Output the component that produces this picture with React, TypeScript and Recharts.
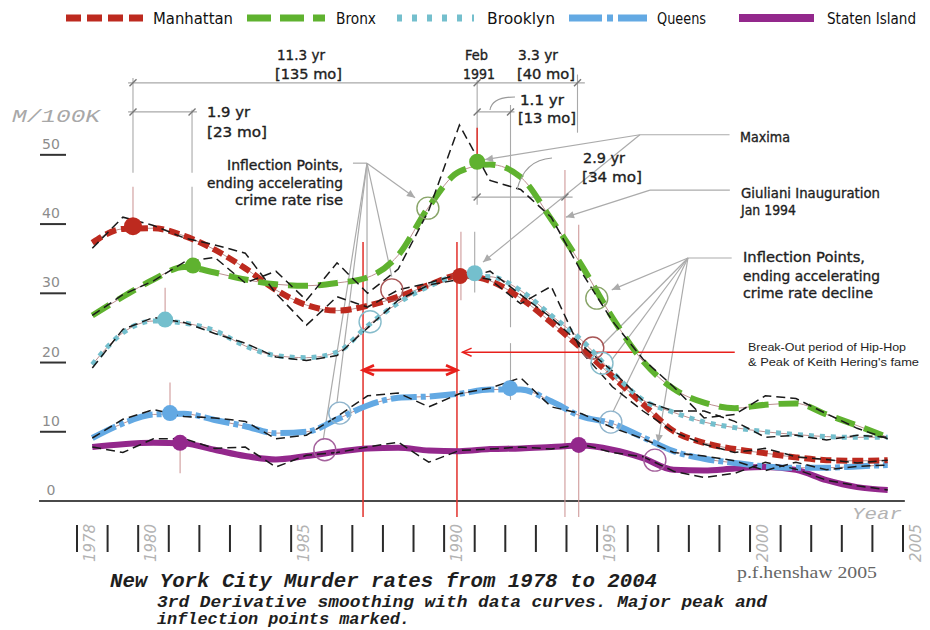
import React from 'react';
import { LineChart, Line, XAxis, YAxis, ReferenceLine, ReferenceDot } from 'recharts';

// ---------- data (murders per 100K, plotted at mid-year) ----------
const years = [1978, 1979, 1980, 1981, 1982, 1983, 1984, 1985, 1986, 1987, 1988, 1989, 1990, 1991, 1992, 1993, 1994, 1995, 1996, 1997, 1998, 1999, 2000, 2001, 2002, 2003, 2004];

const manhattanSmooth = [37.3, 39.3, 39.4, 38.3, 36.3, 33.6, 30.5, 28.3, 27.5, 28.2, 29.5, 31.2, 32.6, 31.8, 29.3, 25.8, 22.0, 18.0, 14.0, 10.1, 8.4, 7.5, 6.9, 6.3, 5.9, 5.8, 5.9];
const manhattanData = [36.5, 41.0, 39.8, 38.0, 37.0, 35.8, 30.0, 25.4, 29.5, 28.0, 30.5, 31.5, 32.8, 32.0, 28.5, 31.0, 21.5, 16.5, 13.0, 10.0, 8.2, 7.0, 7.6, 6.4, 6.0, 5.5, 5.9];

const bronxSmooth = [26.8, 29.5, 32.0, 33.8, 33.0, 32.0, 31.3, 31.1, 31.5, 32.3, 35.5, 42.5, 47.6, 48.6, 46.8, 40.7, 34.0, 26.5, 20.2, 16.2, 14.2, 13.4, 13.9, 14.1, 12.5, 10.9, 9.2];
const bronxData = [26.8, 29.8, 31.8, 34.5, 35.2, 31.5, 33.2, 29.0, 34.4, 30.0, 33.5, 42.0, 54.3, 46.3, 45.0, 41.0, 33.0, 26.0, 20.5, 16.5, 12.0, 12.5, 15.2, 14.8, 12.6, 10.5, 9.0];

const brooklynSmooth = [19.7, 24.3, 26.0, 25.7, 24.6, 22.4, 21.0, 20.7, 21.5, 25.3, 28.6, 31.0, 32.5, 32.4, 30.4, 26.8, 23.2, 18.6, 14.6, 12.8, 11.4, 10.6, 10.0, 9.6, 9.3, 9.2, 9.2];
const brooklynData = [19.2, 24.8, 26.5, 25.8, 24.2, 22.8, 20.8, 20.3, 21.0, 25.0, 29.0, 31.2, 32.0, 33.2, 29.8, 26.5, 22.5, 18.8, 14.5, 13.0, 13.0, 11.5, 9.2, 9.5, 8.8, 9.5, 9.2];

const queensSmooth = [9.1, 11.2, 12.5, 12.6, 11.7, 10.8, 9.8, 10.0, 11.8, 13.8, 14.9, 15.1, 15.5, 16.1, 16.1, 14.4, 12.2, 11.2, 9.2, 7.2, 6.1, 5.5, 5.0, 4.8, 4.8, 5.0, 5.2];
const queensData = [9.1, 11.8, 13.2, 12.2, 12.0, 11.5, 9.0, 9.5, 12.2, 15.2, 15.6, 13.6, 15.5, 16.3, 17.8, 13.6, 12.6, 10.6, 9.0, 7.0, 6.5, 5.8, 4.4, 5.6, 4.5, 5.0, 5.2];

const statenSmooth = [7.8, 8.2, 8.4, 8.3, 7.4, 6.5, 6.0, 6.5, 7.1, 7.6, 7.7, 7.3, 7.2, 7.5, 7.6, 7.8, 8.0, 7.4, 6.2, 4.5, 4.4, 4.7, 4.9, 4.5, 3.0, 2.0, 1.6];
const statenData = [7.8, 7.0, 9.0, 9.0, 7.6, 7.8, 4.9, 6.6, 7.0, 7.8, 8.5, 5.6, 7.3, 7.5, 7.8, 7.5, 8.2, 7.0, 6.4, 4.3, 3.4, 4.0, 5.6, 4.6, 3.0, 2.2, 1.6];

const tickYears = [1978, 1979, 1980, 1981, 1982, 1983, 1984, 1985, 1986, 1987, 1988, 1989, 1990, 1991, 1992, 1993, 1994, 1995, 1996, 1997, 1998, 1999, 2000, 2001, 2002, 2003, 2004, 2005];
const labeledYears = [1978, 1980, 1985, 1990, 1995, 2000, 2005];
const rateTicks = [0, 10, 20, 30, 40, 50];

const boroughNames = ['Manhattan', 'Bronx', 'Brooklyn', 'Queens', 'Staten Island'];

// ---------- annotation anchors in data units (year, rate) ----------
const maximaEarly = [
  { name: 'Manhattan', year: 1979.83, rate: 39.7 },
  { name: 'Bronx', year: 1981.79, rate: 34.0 },
  { name: 'Brooklyn', year: 1980.88, rate: 26.2 },
  { name: 'Queens', year: 1981.04, rate: 12.7 },
  { name: 'Staten Island', year: 1981.37, rate: 8.4 },
];
const maximaLate = [
  { name: 'Manhattan', year: 1990.52, rate: 32.5 },
  { name: 'Bronx', year: 1991.08, rate: 49.0 },
  { name: 'Brooklyn', year: 1991.0, rate: 32.9 },
  { name: 'Queens', year: 1992.15, rate: 16.3 },
  { name: 'Staten Island', year: 1994.4, rate: 8.1 },
];
const inflectionRise = [
  { name: 'Bronx', year: 1989.47, rate: 42.3 },
  { name: 'Manhattan', year: 1988.29, rate: 30.5 },
  { name: 'Brooklyn', year: 1987.58, rate: 25.9 },
  { name: 'Queens', year: 1986.59, rate: 12.7 },
  { name: 'Staten Island', year: 1986.1, rate: 7.4 },
];
const inflectionDecline = [
  { name: 'Bronx', year: 1994.99, rate: 29.3 },
  { name: 'Manhattan', year: 1994.86, rate: 22.1 },
  { name: 'Brooklyn', year: 1995.16, rate: 19.9 },
  { name: 'Queens', year: 1995.45, rate: 11.4 },
  { name: 'Staten Island', year: 1996.89, rate: 5.9 },
];
const guideVerticals = [
  { year: 1979.83, from: 61.1, to: 47.4, kind: 'dim' },
  { year: 1979.83, from: 45.4, to: 39.7, kind: 'pink' },
  { year: 1981.76, from: 56.5, to: 47.4, kind: 'dim' },
  { year: 1981.76, from: 45.4, to: 34.0, kind: 'dim' },
  { year: 1980.88, from: 30.8, to: 26.2, kind: 'pink' },
  { year: 1981.04, from: 17.1, to: 12.7, kind: 'pink' },
  { year: 1981.37, from: 8.4, to: 4.0, kind: 'pink' },
  { year: 1991.08, from: 60.8, to: 42.8, kind: 'dim' },
  { year: 1991.08, from: 53.9, to: 49.0, kind: 'red' },
  { year: 1990.55, from: 38.9, to: 29.0, kind: 'pink' },
  { year: 1991.0, from: 38.9, to: 30.1, kind: 'dim' },
  { year: 1992.17, from: 57.2, to: 25.1, kind: 'dim' },
  { year: 1992.17, from: 22.8, to: 14.6, kind: 'dim' },
  { year: 1994.36, from: 61.6, to: 53.2, kind: 'dim' },
  { year: 1994.4, from: 39.9, to: -2.3, kind: 'pink' },
  { year: 1993.95, from: 47.8, to: -2.3, kind: 'pink' },
  { year: 1987.35, from: 37.4, to: -2.3, kind: 'red' },
  { year: 1990.42, from: 37.4, to: -2.3, kind: 'red' },
];
const dimensionLines = [
  { from: 1979.67, to: 1994.6, rate: 60.4 },
  { from: 1979.67, to: 1981.92, rate: 56.2 },
  { from: 1991.08, to: 1992.3, rate: 56.2 },
  { from: 1990.9, to: 1994.2, rate: 43.9 },
];
const dimensionTicks = [
  { year: 1979.83, rate: 60.4 }, { year: 1991.08, rate: 60.4 }, { year: 1994.36, rate: 60.4 },
  { year: 1979.83, rate: 56.2 }, { year: 1981.76, rate: 56.2 },
  { year: 1991.08, rate: 56.2 }, { year: 1992.17, rate: 56.2 },
  { year: 1991.08, rate: 43.9 }, { year: 1993.95, rate: 43.9 },
];
const leaderLines = [
  { x1: 1996.4, y1: 52.9, x2: 1999.33, y2: 52.9, arrow: false },
  { x1: 1996.4, y1: 52.9, x2: 1991.33, y2: 49.3, arrow: true },
  { x1: 1996.4, y1: 52.9, x2: 1991.27, y2: 34.5, arrow: true },
  { x1: 1996.73, y1: 44.9, x2: 1999.34, y2: 44.9, arrow: false },
  { x1: 1996.73, y1: 44.9, x2: 1993.98, y2: 41.0, arrow: true },
  { x1: 1987.02, y1: 48.8, x2: 1987.48, y2: 48.8, arrow: false },
  { x1: 1987.48, y1: 48.8, x2: 1989.05, y2: 43.8, arrow: true },
  { x1: 1987.48, y1: 48.8, x2: 1988.29, y2: 32.4, arrow: false },
  { x1: 1987.48, y1: 48.8, x2: 1987.48, y2: 28.3, arrow: false },
  { x1: 1987.48, y1: 48.8, x2: 1986.5, y2: 14.3, arrow: false },
  { x1: 1987.48, y1: 48.8, x2: 1986.05, y2: 8.9, arrow: false },
  { x1: 1997.97, y1: 35.1, x2: 1999.4, y2: 35.1, arrow: false },
  { x1: 1997.97, y1: 35.1, x2: 1995.48, y2: 30.5, arrow: true },
  { x1: 1997.97, y1: 35.1, x2: 1995.16, y2: 22.5, arrow: false },
  { x1: 1997.97, y1: 35.1, x2: 1995.48, y2: 20.4, arrow: false },
  { x1: 1997.97, y1: 35.1, x2: 1995.52, y2: 12.9, arrow: false },
  { x1: 1997.97, y1: 35.1, x2: 1996.99, y2: 8.4, arrow: true },
];
const hipHopSpan = { from: 1987.35, to: 1990.42, rate: 18.9 };
const hipHopPointer = { from: 1999.5, to: 1990.6, rate: 21.5 };
const axisSpan = { from: 1976.76, to: 2005.06 };

// ---------- styling ----------
const COLORS: Record<string, string> = {
  Manhattan: '#bd2a1f',
  Bronx: '#5fb22f',
  Brooklyn: '#74bfcd',
  Queens: '#63a9e3',
  'Staten Island': '#93288c',
};
const CIRCLE_COLORS: Record<string, string> = {
  Manhattan: '#a85656',
  Bronx: '#88a468',
  Brooklyn: '#86bccb',
  Queens: '#8fb4cc',
  'Staten Island': '#a4619c',
};
const VERT_COLORS: Record<string, string> = { dim: '#a9a9a9', pink: '#cf9a9a', red: '#e2302b' };

const chartData = years.map((yr, i) => ({
  year: yr + 0.5,
  manhattan: manhattanSmooth[i],
  manhattanRaw: manhattanData[i],
  bronx: bronxSmooth[i],
  bronxRaw: bronxData[i],
  brooklyn: brooklynSmooth[i],
  brooklynRaw: brooklynData[i],
  queens: queensSmooth[i],
  queensRaw: queensData[i],
  staten: statenSmooth[i],
  statenRaw: statenData[i],
}));

const seriesDefs = [
  { key: 'staten', name: 'Staten Island', width: 6, dash: undefined as string | undefined },
  { key: 'queens', name: 'Queens', width: 6, dash: '26 4 5 4' },
  { key: 'manhattan', name: 'Manhattan', width: 6, dash: '11 5' },
  { key: 'brooklyn', name: 'Brooklyn', width: 5, dash: '5 6' },
  { key: 'bronx', name: 'Bronx', width: 6, dash: '20 10' },
];

const ANN_FONT = "'DejaVu Sans', 'Noto Sans', sans-serif";
const MONO = "'Liberation Mono', 'DejaVu Sans Mono', monospace";

const segShape = (color: string, width: number, head: 'none' | 'end' | 'both', filled: boolean, size: number) =>
  (p: any) => {
    const { x1, y1, x2, y2 } = p;
    if ([x1, y1, x2, y2].some((v) => typeof v !== 'number' || isNaN(v))) return <g />;
    const mk = (x: number, y: number, a: number, k: string) => {
      const w = 0.42;
      const ax = x - size * Math.cos(a - w);
      const ay = y - size * Math.sin(a - w);
      const bx = x - size * Math.cos(a + w);
      const by = y - size * Math.sin(a + w);
      return filled ? (
        <polygon key={k} points={`${ax},${ay} ${x},${y} ${bx},${by}`} fill={color} />
      ) : (
        <polyline key={k} points={`${ax},${ay} ${x},${y} ${bx},${by}`} fill="none" stroke={color} strokeWidth={width} />
      );
    };
    const a = Math.atan2(y2 - y1, x2 - x1);
    return (
      <g>
        <line x1={x1} y1={y1} x2={x2} y2={y2} stroke={color} strokeWidth={width} />
        {head !== 'none' && mk(x2, y2, a, 'e')}
        {head === 'both' && mk(x1, y1, a + Math.PI, 's')}
      </g>
    );
  };

const tickMark = (p: any) => {
  const { cx, cy } = p;
  if (typeof cx !== 'number') return <g />;
  return <line x1={cx - 3.5} y1={cy + 3.5} x2={cx + 3.5} y2={cy - 3.5} stroke="#777" strokeWidth={1.4} />;
};

const XTick = (props: any) => {
  const { x, payload } = props;
  const yr = payload.value;
  return (
    <g>
      <line x1={x} x2={x} y1={525} y2={552} stroke="#2a2a2a" strokeWidth={2} />
      {labeledYears.includes(yr) && (
        <text
          transform={`translate(${x + 12.5},${543}) rotate(-90)`}
          textAnchor="middle"
          dominantBaseline="central"
          fontSize={15}
          fontStyle="italic"
          fill="#b3b3b3"
          fontFamily={ANN_FONT}
        >
          {yr}
        </text>
      )}
    </g>
  );
};

const YTick = (props: any) => {
  const { y, payload } = props;
  return (
    <g>
      <text x={51} y={y - 6} textAnchor="middle" fontSize={14} fill="#8c8c8c" fontFamily={ANN_FONT}>
        {payload.value}
      </text>
      {payload.value > 0 && <line x1={40} x2={66} y1={y} y2={y} stroke="#333" strokeWidth={2} />}
    </g>
  );
};

const T = (p: { x: number; y: number; w?: number; anchor?: 'start' | 'end' | 'middle'; size?: number; children: string; fill?: string; family?: string; weight?: number | string; italic?: boolean; heavy?: boolean }) => (
  <text
    x={p.x}
    y={p.y}
    textAnchor={p.anchor || 'start'}
    fontSize={p.size || 13.5}
    fill={p.fill || '#1e1e1e'}
    stroke={p.heavy ? p.fill || '#1e1e1e' : undefined}
    strokeWidth={p.heavy ? 0.35 : undefined}
    fontFamily={p.family || ANN_FONT}
    fontWeight={p.weight || 'normal'}
    fontStyle={p.italic ? 'italic' : 'normal'}
    textLength={p.w}
    lengthAdjust={p.w ? 'spacingAndGlyphs' : undefined}
  >
    {p.children}
  </text>
);

const legendSamples = [
  { name: 'Manhattan', x1: 66, x2: 143, dash: '15 6', width: 7, tx: 153, tw: 80 },
  { name: 'Bronx', x1: 247, x2: 325, dash: '24 9', width: 7, tx: 336, tw: 40 },
  { name: 'Brooklyn', x1: 397, x2: 474, dash: '5 10', width: 7, tx: 487, tw: 68 },
  { name: 'Queens', x1: 569, x2: 647, dash: '33 5 6 5', width: 7, tx: 657, tw: 49 },
  { name: 'Staten Island', x1: 739, x2: 814, dash: undefined as string | undefined, width: 8, tx: 827, tw: 89 },
];

export default function App() {
  return (
    <div style={{ position: 'absolute', left: 0, top: 0, width: 930, height: 630, background: '#fff' }}>
      <LineChart width={930} height={630} data={chartData} margin={{ top: 51, right: 27, bottom: 99, left: 40 }}>
        <XAxis
          dataKey="year"
          type="number"
          domain={[1978, 2005]}
          ticks={tickYears}
          interval={0}
          height={30}
          axisLine={false}
          tickLine={false}
          tick={<XTick />}
          allowDataOverflow
        />
        <YAxis
          type="number"
          domain={[0, 65]}
          ticks={rateTicks}
          interval={0}
          width={37}
          axisLine={false}
          tickLine={false}
          tick={<YTick />}
          allowDataOverflow
        />

        {/* base axis line */}
        <ReferenceLine
          segment={[{ x: axisSpan.from, y: 0 }, { x: axisSpan.to, y: 0 }]}
          ifOverflow="visible"
          shape={segShape('#4a4a4a', 2, 'none', false, 0)}
        />

        {/* guide verticals */}
        {guideVerticals.map((g, i) => (
          <ReferenceLine
            key={'gv' + i}
            segment={[{ x: g.year, y: g.from }, { x: g.year, y: g.to }]}
            ifOverflow="visible"
            shape={segShape(VERT_COLORS[g.kind], g.kind === 'red' ? 1.5 : 1.1, 'none', false, 0)}
          />
        ))}

        {/* dimension lines */}
        {dimensionLines.map((d, i) => (
          <ReferenceLine
            key={'dl' + i}
            segment={[{ x: d.from, y: d.rate }, { x: d.to, y: d.rate }]}
            ifOverflow="visible"
            shape={segShape('#a9a9a9', 1.1, 'none', false, 0)}
          />
        ))}
        {dimensionTicks.map((d, i) => (
          <ReferenceDot key={'dt' + i} x={d.year} y={d.rate} r={3} ifOverflow="visible" shape={tickMark} />
        ))}

        {/* leader lines */}
        {leaderLines.map((l, i) => (
          <ReferenceLine
            key={'ll' + i}
            segment={[{ x: l.x1, y: l.y1 }, { x: l.x2, y: l.y2 }]}
            ifOverflow="visible"
            shape={segShape('#ababab', 1.2, l.arrow ? 'end' : 'none', true, 9)}
          />
        ))}

        {/* red hip-hop arrows */}
        <ReferenceLine
          segment={[{ x: hipHopSpan.from, y: hipHopSpan.rate }, { x: hipHopSpan.to, y: hipHopSpan.rate }]}
          ifOverflow="visible"
          shape={segShape('#e8201c', 2.8, 'both', false, 12)}
        />
        <ReferenceLine
          segment={[{ x: hipHopPointer.from, y: hipHopPointer.rate }, { x: hipHopPointer.to, y: hipHopPointer.rate }]}
          ifOverflow="visible"
          shape={segShape('#e8201c', 1.5, 'end', false, 10)}
        />

        {/* smoothed curves: thin core + thick styled stroke */}
        {seriesDefs.map((s) => (
          <Line
            key={s.key + 'core'}
            dataKey={s.key}
            type="monotone"
            stroke="#bb8f8f"
            strokeWidth={1}
            dot={false}
            activeDot={false}
            isAnimationActive={false}
          />
        ))}
        {seriesDefs.map((s) => (
          <Line
            key={s.key}
            dataKey={s.key}
            name={s.name}
            type="monotone"
            stroke={COLORS[s.name]}
            strokeWidth={s.width}
            strokeDasharray={s.dash}
            dot={false}
            activeDot={false}
            isAnimationActive={false}
          />
        ))}
        {/* raw data curves */}
        {seriesDefs.map((s) => (
          <Line
            key={s.key + 'raw'}
            dataKey={s.key + 'Raw'}
            type="linear"
            stroke="#1a1a1a"
            strokeWidth={1.5}
            strokeDasharray="9 5"
            dot={false}
            activeDot={false}
            isAnimationActive={false}
          />
        ))}

        {/* maxima */}
        {[...maximaEarly, ...maximaLate].map((m, i) => (
          <ReferenceDot
            key={'mx' + i}
            x={m.year}
            y={m.rate}
            r={i === 0 ? 9 : 8}
            fill={COLORS[m.name]}
            stroke="none"
            ifOverflow="visible"
          />
        ))}
        {/* inflection circles */}
        {[...inflectionRise, ...inflectionDecline].map((c, i) => (
          <ReferenceDot
            key={'ip' + i}
            x={c.year}
            y={c.rate}
            r={11}
            fill="none"
            stroke={CIRCLE_COLORS[c.name]}
            strokeWidth={1.4}
            ifOverflow="visible"
          />
        ))}
      </LineChart>

      <svg width={930} height={630} style={{ position: 'absolute', left: 0, top: 0, pointerEvents: 'none' }}>
        {/* legend */}
        {legendSamples.map((l) => (
          <g key={l.name}>
            <line x1={l.x1} x2={l.x2} y1={18} y2={18} stroke={COLORS[l.name]} strokeWidth={l.width} strokeDasharray={l.dash} />
            <T x={l.tx} y={24} w={l.tw} size={16} fill="#111" family="'DejaVu Sans Condensed', 'DejaVu Sans', sans-serif">
              {boroughNames[boroughNames.indexOf(l.name)]}
            </T>
          </g>
        ))}

        {/* axis captions */}
        <T x={12} y={122} w={88} size={18} italic fill="#a8a8a8" family={MONO}>M/100K</T>
        <T x={852} y={519} w={50} size={17} italic fill="#b3b3b3" family={MONO}>Year</T>

        {/* dimension texts */}
        <T x={277} y={60} w={48} heavy>11.3 yr</T>
        <T x={275} y={79} w={67} heavy>[135 mo]</T>
        <T x={465} y={60} w={23} heavy>Feb</T>
        <T x={463} y={79} w={32} heavy>1991</T>
        <T x={518} y={60} w={40} heavy>3.3 yr</T>
        <T x={517} y={79} w={58} heavy>[40 mo]</T>
        <T x={207} y={117} w={43} heavy>1.9 yr</T>
        <T x={207} y={137} w={60} heavy>[23 mo]</T>
        <T x={520} y={105} w={44} heavy>1.1 yr</T>
        <T x={518} y={123} w={58} heavy>[13 mo]</T>
        <T x={583} y={163} w={42} heavy>2.9 yr</T>
        <T x={582} y={182} w={60} heavy>[34 mo]</T>
        <path d="M490,110 Q492,97 515,97" fill="none" stroke="#9a9a9a" strokeWidth={1.1} />
        <path d="M517,190 Q524,160 552,158" fill="none" stroke="#9a9a9a" strokeWidth={1.1} />

        {/* callouts */}
        <T x={740} y={142} w={50} heavy>Maxima</T>
        <T x={741} y={198} w={139} heavy>Giuliani Inauguration</T>
        <T x={741} y={215} w={55} heavy>Jan 1994</T>
        <T x={343} y={170} w={116} anchor="end" heavy>Inflection Points,</T>
        <T x={343} y={188} w={136} anchor="end" heavy>ending accelerating</T>
        <T x={343} y={205} w={108} anchor="end" heavy>crime rate rise</T>
        <T x={743} y={262} w={122} size={14.5} heavy>Inflection Points,</T>
        <T x={743} y={281} w={137} size={14.5} heavy>ending accelerating</T>
        <T x={743} y={298} w={130} size={14.5} heavy>crime rate decline</T>
        <T x={748} y={351} w={158} size={11.5} family="'Liberation Sans', Arial, sans-serif">Break-Out period of Hip-Hop</T>
        <T x={748} y={366} w={171} size={11.5} family="'Liberation Sans', Arial, sans-serif">{"& Peak of Keith Hering's fame"}</T>

        {/* titles */}
        <T x={110} y={587} w={547} size={20} weight="bold" italic family={MONO}>New York City Murder rates from 1978 to 2004</T>
        <T x={157} y={607} w={610} size={16} weight="bold" italic family={MONO}>3rd Derivative smoothing with data curves. Major peak and</T>
        <T x={157} y={624} w={253} size={16} weight="bold" italic family={MONO}>inflection points marked.</T>
        <T x={737} y={578} w={140} size={17} fill="#666" family="'Liberation Serif', 'DejaVu Serif', serif">p.f.henshaw 2005</T>
      </svg>
    </div>
  );
}
